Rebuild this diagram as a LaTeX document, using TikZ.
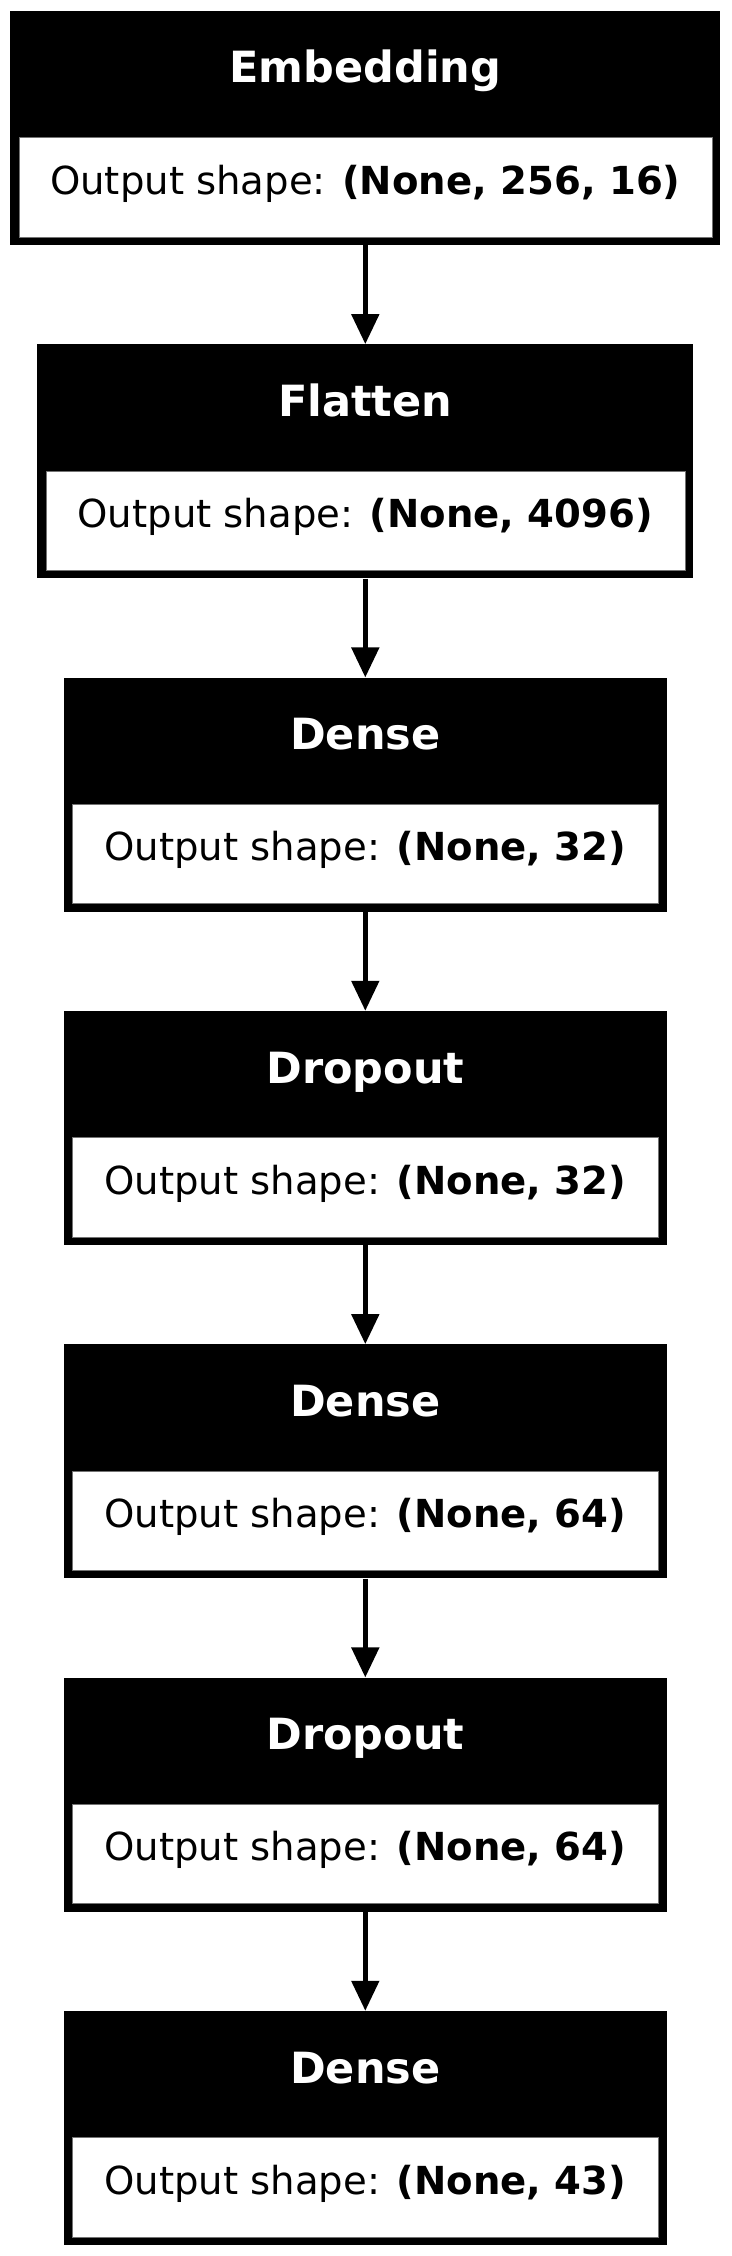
\documentclass[tikz,border=0pt]{standalone}
\usepackage{fontspec}
\setmainfont{DejaVu Sans}
\usetikzlibrary{arrows.meta}
\begin{document}
\begin{tikzpicture}[x=1pt,y=1pt,
  layerbox/.style={fill=black, draw=none, inner sep=0pt, minimum height=234pt},
  cellbox/.style={fill=white, draw=black!55, line width=0.6pt, inner sep=0pt, minimum height=99.5pt},
  headtext/.style={text=white, font=\fontsize{43}{50}\selectfont\bfseries, inner sep=0pt, anchor=base},
  bodytext/.style={text=black, font=\fontsize{38.6}{46}\selectfont, inner sep=0pt, anchor=base},
  conn/.style={line width=5pt, -{Triangle[length=30pt,width=27pt]}}]
\useasboundingbox (0,0) rectangle (731,-2256);
\foreach \i/\title/\shp/\w in {0/Embedding/{(None, 256, 16)}/710,
                               1/Flatten/{(None, 4096)}/656,
                               2/Dense/{(None, 32)}/603,
                               3/Dropout/{(None, 32)}/603,
                               4/Dense/{(None, 64)}/603,
                               5/Dropout/{(None, 64)}/603,
                               6/Dense/{(None, 43)}/603}{
  \pgfmathsetmacro{\ytop}{11+333.33*\i}
  \pgfmathsetmacro{\ymid}{-\ytop-117}
  \pgfmathsetmacro{\ycell}{-\ytop-176.25}
  \pgfmathsetmacro{\yhead}{-\ytop-72}
  \pgfmathsetmacro{\ybody}{-\ytop-183}
  \pgfmathsetmacro{\wcell}{\w-17}
  \node[layerbox, minimum width=\w pt] (L\i) at (365.3,\ymid) {};
  \node[cellbox, minimum width=\wcell pt] (C\i) at (365.3,\ycell) {};
  \node[headtext] (H\i) at (365.3,\yhead) {\title};
  \node[bodytext] (B\i) at (365.3,\ybody) {Output shape: \textbf{\shp}};
}
\foreach \i [evaluate=\i as \j using int(\i+1)] in {0,...,5}{
  \draw[conn] (L\i.south) -- (L\j.north);
}
\end{tikzpicture}
\end{document}
